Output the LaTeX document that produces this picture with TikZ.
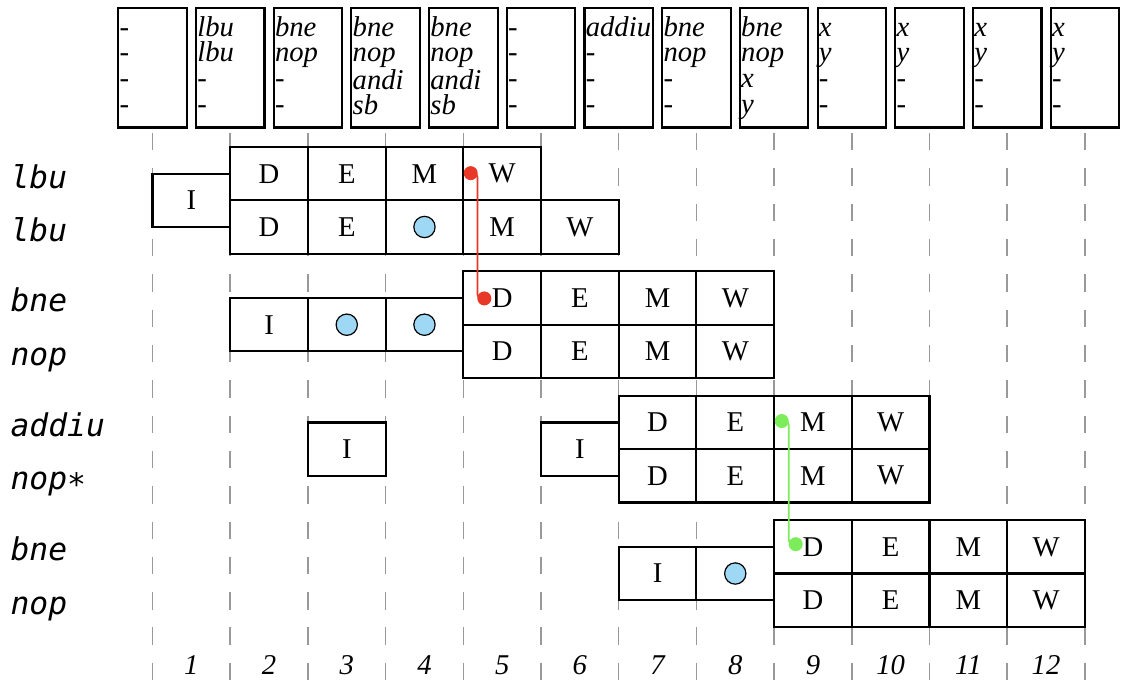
\documentclass[tikz,border=0pt]{standalone}
\usepackage{fontspec}
\setmainfont{Liberation Serif}
\setmonofont{DejaVu Sans Mono}
\usetikzlibrary{calc}

\definecolor{bubblecol}{RGB}{158,216,244}
\definecolor{fwdred}{RGB}{232,56,40}
\definecolor{fwdgreen}{RGB}{124,236,90}

\tikzset{
  stage/.style={draw, line width=1.6pt, fill=white, minimum width=58.3pt, minimum height=40pt,
    inner sep=0pt, font=\fontsize{21.5}{24}\selectfont},
  bubble/.style={circle, draw, line width=0.9pt, fill=bubblecol, minimum size=16pt, inner sep=0pt},
  slot/.style={draw, line width=1.6pt, fill=white, inner xsep=1pt, inner ysep=0pt,
    font=\fontsize{21.5}{19.3}\selectfont\itshape},
  instr/.style={anchor=base west, inner sep=0pt, font=\fontsize{23.5}{26}\selectfont\ttfamily\itshape},
  cyc/.style={inner sep=0pt, font=\fontsize{21.5}{24}\selectfont\itshape},
  cycline/.style={gray!80, line width=1.1pt, dash pattern=on 13.1pt off 13.4pt},
  fwd/.style={line width=1.4pt, rounded corners=3pt},
  fwddot/.style={circle, inner sep=0pt, minimum size=10.5pt}
}
\newcommand{\slotlines}[4]{\parbox[c][89.6pt][t]{49.4pt}{\rule{0pt}{21pt}#1\\#2\\#3\\#4}}

\begin{document}
\begin{tikzpicture}[x=58.3pt, y=40pt]
\fill[white] (-1.963,2.758) rectangle (12.606,-10.300);

% cycle lines
\draw[cycline] (0,0.263) -- (0,-10.03);   \draw[cycline] (1,0.263) -- (1,-10.03);
\draw[cycline] (2,0.263) -- (2,-10.03);   \draw[cycline] (3,0.263) -- (3,-10.03);
\draw[cycline] (4,0.263) -- (4,-10.03);   \draw[cycline] (5,0.263) -- (5,-10.03);
\draw[cycline] (6,0.263) -- (6,-10.03);   \draw[cycline] (7,0.263) -- (7,-10.03);
\draw[cycline] (8,0.263) -- (8,-10.03);   \draw[cycline] (9,0.263) -- (9,-10.03);
\draw[cycline] (10,0.263) -- (10,-10.03); \draw[cycline] (11,0.263) -- (11,-10.03);
\draw[cycline] (12,0.263) -- (12,-10.03);

% instruction window
\node[slot] (t0) at (0,1.486) {\slotlines{-}{-}{-}{-}};
\node[slot] (t1) at (1,1.486) {\slotlines{lbu}{lbu}{-}{-}};
\node[slot] (t2) at (2,1.486) {\slotlines{bne}{nop}{-}{-}};
\node[slot] (t3) at (3,1.486) {\slotlines{bne}{nop}{andi}{sb}};
\node[slot] (t4) at (4,1.486) {\slotlines{bne}{nop}{andi}{sb}};
\node[slot] (t5) at (5,1.486) {\slotlines{-}{-}{-}{-}};
\node[slot] (t6) at (6,1.486) {\slotlines{addiu}{-}{-}{-}};
\node[slot] (t7) at (7,1.486) {\slotlines{bne}{nop}{-}{-}};
\node[slot] (t8) at (8,1.486) {\slotlines{bne}{nop}{x}{y}};
\node[slot] (t9) at (9,1.486) {\slotlines{x}{y}{-}{-}};
\node[slot] (t10) at (10,1.486) {\slotlines{x}{y}{-}{-}};
\node[slot] (t11) at (11,1.486) {\slotlines{x}{y}{-}{-}};
\node[slot] (t12) at (12,1.486) {\slotlines{x}{y}{-}{-}};

% lbu / lbu
\node[instr] (l1) at (-1.83,-0.77) {lbu};
\node[instr] (l2) at (-1.83,-1.77) {lbu};
\node[stage] (aI) at (0.5,-1) {I};
\node[stage] (aD) at (1.5,-0.5) {D};
\node[stage] (aE) at (2.5,-0.5) {E};
\node[stage] (aM) at (3.5,-0.5) {M};
\node[stage] (aW) at (4.5,-0.5) {W};
\node[stage] (bD) at (1.5,-1.5) {D};
\node[stage] (bE) at (2.5,-1.5) {E};
\node[stage] (bS) at (3.5,-1.5) {};
\node[bubble] (bB) at (bS) {};
\node[stage] (bM) at (4.5,-1.5) {M};
\node[stage] (bW) at (5.5,-1.5) {W};

% bne / nop
\node[instr] (l3) at (-1.83,-3.09) {bne};
\node[instr] (l4) at (-1.83,-4.09) {nop};
\node[stage] (cI) at (1.5,-3.333) {I};
\node[stage] (cS1) at (2.5,-3.333) {};
\node[bubble] (cB1) at (cS1) {};
\node[stage] (cS2) at (3.5,-3.333) {};
\node[bubble] (cB2) at (cS2) {};
\node[stage] (cD) at (4.5,-2.833) {D};
\node[stage] (cE) at (5.5,-2.833) {E};
\node[stage] (cM) at (6.5,-2.833) {M};
\node[stage] (cW) at (7.5,-2.833) {W};
\node[stage] (dD) at (4.5,-3.833) {D};
\node[stage] (dE) at (5.5,-3.833) {E};
\node[stage] (dM) at (6.5,-3.833) {M};
\node[stage] (dW) at (7.5,-3.833) {W};

% addiu / nop*
\node[instr] (l5) at (-1.83,-5.43) {addiu};
\node[instr] (l6) at (-1.83,-6.43) {nop∗};
\node[stage] (eI1) at (2.5,-5.667) {I};
\node[stage] (eI2) at (5.5,-5.667) {I};
\node[stage] (eD) at (6.5,-5.167) {D};
\node[stage] (eE) at (7.5,-5.167) {E};
\node[stage] (eM) at (8.5,-5.167) {M};
\node[stage] (eW) at (9.5,-5.167) {W};
\node[stage] (fD) at (6.5,-6.167) {D};
\node[stage] (fE) at (7.5,-6.167) {E};
\node[stage] (fM) at (8.5,-6.167) {M};
\node[stage] (fW) at (9.5,-6.167) {W};

% bne / nop
\node[instr] (l7) at (-1.83,-7.76) {bne};
\node[instr] (l8) at (-1.83,-8.76) {nop};
\node[stage] (gI) at (6.5,-8) {I};
\node[stage] (gS) at (7.5,-8) {};
\node[bubble] (gB) at (gS) {};
\node[stage] (gD) at (8.5,-7.5) {D};
\node[stage] (gE) at (9.5,-7.5) {E};
\node[stage] (gM) at (10.5,-7.5) {M};
\node[stage] (gW) at (11.5,-7.5) {W};
\node[stage] (hD) at (8.5,-8.5) {D};
\node[stage] (hE) at (9.5,-8.5) {E};
\node[stage] (hM) at (10.5,-8.5) {M};
\node[stage] (hW) at (11.5,-8.5) {W};

% cycle numbers
\node[cyc] (n1) at (0.5,-9.72) {1};   \node[cyc] (n2) at (1.5,-9.72) {2};
\node[cyc] (n3) at (2.5,-9.72) {3};   \node[cyc] (n4) at (3.5,-9.72) {4};
\node[cyc] (n5) at (4.5,-9.72) {5};   \node[cyc] (n6) at (5.5,-9.72) {6};
\node[cyc] (n7) at (6.5,-9.72) {7};   \node[cyc] (n8) at (7.5,-9.72) {8};
\node[cyc] (n9) at (8.5,-9.72) {9};   \node[cyc] (n10) at (9.5,-9.72) {10};
\node[cyc] (n11) at (10.5,-9.72) {11}; \node[cyc] (n12) at (11.5,-9.72) {12};

% forwarding
\coordinate (rA) at (4.095,-0.49);
\coordinate (rB) at (4.27,-2.84);
\coordinate (gA) at (8.098,-5.14);
\coordinate (gB) at (8.278,-7.45);
\draw[fwd, fwdred] (rA) -| ($(rA)!0.5!(rB)$) |- (rB);
\draw[fwd, fwdgreen] (gA) -| ($(gA)!0.5!(gB)$) |- (gB);
\node[fwddot, fill=fwdred] (rA1) at (rA) {};
\node[fwddot, fill=fwdred] (rB1) at (rB) {};
\node[fwddot, fill=fwdgreen] (gA1) at (gA) {};
\node[fwddot, fill=fwdgreen] (gB1) at (gB) {};

\end{tikzpicture}
\end{document}
